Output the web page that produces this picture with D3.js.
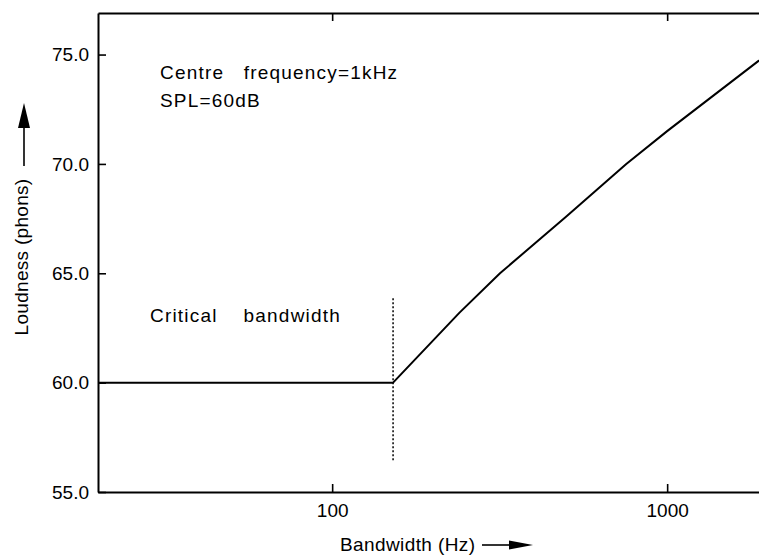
<!DOCTYPE html>
<html>
<head>
<meta charset="utf-8">
<script src="https://cdn.jsdelivr.net/npm/d3@7"></script>
<style>
  html, body { margin: 0; padding: 0; background: #fff; }
  svg { display: block; }
  text { font-family: "Liberation Sans", Arial, Helvetica, sans-serif; fill: #000; }
</style>
</head>
<body>
<svg id="chart" width="759" height="555"></svg>
<script>
// ---- data ----
const bandwidthHz = [20, 152, 240, 317, 500, 755, 1000, 1870, 2000];
const loudnessPhons = [60, 60, 63.2, 65, 67.6, 70, 71.5, 74.7, 75.0];
const criticalBandwidth = 152;
const criticalMarkerRange = [56.45, 63.9];
const yTicks = [55, 60, 65, 70, 75];
const xTicks = [100, 1000];
const xTitle = "Bandwidth (Hz)";
const yTitle = "Loudness (phons)";
const noteLines = ["Centre   frequency=1kHz", "SPL=60dB"];
const regionLabel = "Critical    bandwidth";

(function () {
// ---- layout ----
const svg = d3.select("#chart");
const mLeft = 98, mTop = 13, mBottom = 492, mRight = 768;
const fs = 19;

const x = d3.scaleLog().domain([20, 2000]).range([mLeft, mRight]);
const y = d3.scaleLinear().domain([55, 76.9]).range([mBottom, mTop]);

// axes
const axisStyle = g => {
  g.select(".domain").attr("stroke", "#000").attr("stroke-width", 2);
  g.selectAll(".tick line").attr("stroke", "#000").attr("stroke-width", 1.6);
  g.selectAll(".tick text").attr("font-size", fs).attr("fill", "#000")
    .attr("font-family", "Liberation Sans, Arial, sans-serif");
};

svg.append("g").attr("transform", `translate(0,${mBottom})`)
  .call(d3.axisBottom(x).tickValues(xTicks).tickFormat(d3.format("d"))
    .tickSizeInner(-8).tickSizeOuter(0).tickPadding(12))
  .call(axisStyle);

svg.append("g").attr("transform", `translate(0,${mTop})`)
  .call(d3.axisTop(x).tickValues(xTicks).tickFormat("")
    .tickSizeInner(-8).tickSizeOuter(0))
  .call(axisStyle);

svg.append("g").attr("transform", `translate(${mLeft},0)`)
  .call(d3.axisLeft(y).tickValues(yTicks).tickFormat(d3.format(".1f"))
    .tickSizeInner(-8).tickSizeOuter(0).tickPadding(9))
  .call(axisStyle);

// data line
const line = d3.line().x((d, i) => x(bandwidthHz[i])).y(d => y(d));
svg.append("path")
  .datum(loudnessPhons)
  .attr("d", line)
  .attr("fill", "none")
  .attr("stroke", "#000")
  .attr("stroke-width", 2)
  .attr("stroke-linejoin", "round");

// critical bandwidth marker (dotted)
svg.append("line")
  .attr("x1", x(criticalBandwidth)).attr("x2", x(criticalBandwidth))
  .attr("y1", y(criticalMarkerRange[0])).attr("y2", y(criticalMarkerRange[1]))
  .attr("stroke", "#000").attr("stroke-width", 1.5)
  .attr("stroke-dasharray", "2,2");

// annotations
const note = (tx, ty, s) => svg.append("text").attr("x", tx).attr("y", ty)
  .attr("font-size", fs).attr("letter-spacing", 1.2)
  .style("white-space", "pre").text(s);
note(160, 79, noteLines[0]);
note(160, 107, noteLines[1]);
note(150, 322, regionLabel);

// x title with arrow
svg.append("text").attr("x", 340).attr("y", 551).attr("font-size", fs)
  .attr("letter-spacing", 0.4).text(xTitle);
svg.append("line").attr("x1", 482).attr("x2", 512).attr("y1", 545).attr("y2", 545)
  .attr("stroke", "#000").attr("stroke-width", 1.6);
svg.append("path").attr("d", "M533,545 L509,540.5 L509,549.5 Z").attr("fill", "#000");

// y title with arrow
svg.append("text")
  .attr("transform", "translate(28,257) rotate(-90)")
  .attr("text-anchor", "middle").attr("font-size", fs)
  .attr("letter-spacing", 0.3).text(yTitle);
svg.append("line").attr("x1", 24).attr("x2", 24).attr("y1", 166).attr("y2", 126)
  .attr("stroke", "#000").attr("stroke-width", 1.6);
svg.append("path").attr("d", "M24,103 L18,128 L30,128 Z").attr("fill", "#000");
})();
</script>
</body>
</html>
